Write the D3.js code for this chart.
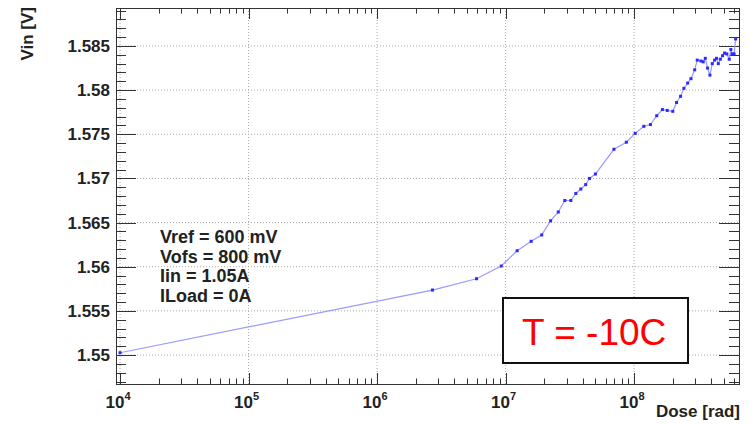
<!DOCTYPE html>
<html>
<head>
<meta charset="utf-8">
<script src="https://cdn.jsdelivr.net/npm/d3@7"></script>
<style>
  body { margin: 0; background: #fff; }
  svg { display: block; font-family: "Liberation Sans", Arial, Helvetica, sans-serif; }
  .tick-label { font-weight: bold; font-size: 17px; fill: #222; }
</style>
</head>
<body>
<svg id="chart" width="753" height="424"></svg>
<script>
// dose [rad]
var dose = [1e4, 2.7e6, 5.94e6, 9.25e6, 1.23e7, 1.58e7, 1.91e7, 2.24e7, 2.57e7, 2.89e7,
  3.22e7, 3.52e7, 3.85e7, 4.2e7, 4.5e7, 5.0e7, 6.97e7, 8.7e7, 1.02e8, 1.19e8,
  1.34e8, 1.5e8, 1.66e8, 1.81e8, 2.0e8, 2.14e8, 2.3e8, 2.44e8, 2.61e8, 2.77e8,
  2.96e8, 3.1e8, 3.31e8, 3.45e8, 3.58e8, 3.73e8, 3.89e8, 4.06e8, 4.23e8, 4.38e8,
  4.52e8, 4.69e8, 4.88e8, 5.06e8, 5.27e8, 5.5e8, 5.66e8, 5.8e8, 6.0e8, 6.17e8];
// Vin [V]
var vin = [1.55026, 1.55736, 1.55864, 1.56008, 1.56181, 1.56288, 1.5636, 1.5652, 1.5662, 1.5675,
  1.5675, 1.5683, 1.5688, 1.5693, 1.5700, 1.5705, 1.5733, 1.5741, 1.5751, 1.5759,
  1.5761, 1.5771, 1.5778, 1.5777, 1.5776, 1.5786, 1.5793, 1.5802, 1.5808, 1.5813,
  1.5823, 1.5834, 1.5833, 1.5832, 1.5836, 1.5825, 1.5817, 1.5830, 1.5834, 1.5836,
  1.5830, 1.5835, 1.5839, 1.5842, 1.5841, 1.5835, 1.5846, 1.5841, 1.5841, 1.5858];

var yTicks = [1.55, 1.555, 1.56, 1.565, 1.57, 1.575, 1.58, 1.585];
var xDecades = [4, 5, 6, 7, 8];
var notes = ["Vref = 600 mV", "Vofs = 800 mV", "Iin = 1.05A", "ILoad = 0A"];
var tempLabel = "T = -10C";

var svg = d3.select("#chart"),
  margin = {top: 8, right: 14, bottom: 40, left: 116},
  width = +svg.attr("width") - margin.left - margin.right,
  height = +svg.attr("height") - margin.top - margin.bottom,
  g = svg.append("g").attr("transform", "translate(" + margin.left + "," + margin.top + ")");

var x = d3.scaleLog().domain([9.3e3, 6.55e8]).range([0, width]);
var y = d3.scaleLinear().domain([1.54672, 1.5893]).range([height, 0]);

var data = dose.map(function(d, i) { return {dose: d, val: vin[i]}; });

// grid, dotted
var majorX = xDecades.map(function(e) { return Math.pow(10, e); });
g.selectAll("line.gx").data(majorX).enter().append("line")
  .attr("x1", function(d) { return x(d); }).attr("x2", function(d) { return x(d); })
  .attr("y1", 0).attr("y2", height)
  .attr("stroke", "#aaa").attr("stroke-dasharray", "1,2");
g.selectAll("line.gy").data(yTicks).enter().append("line")
  .attr("x1", 0).attr("x2", width)
  .attr("y1", function(d) { return y(d); }).attr("y2", function(d) { return y(d); })
  .attr("stroke", "#aaa").attr("stroke-dasharray", "1,2");

// ticks pointing inward on all four sides (ROOT style)
var minorX = x.ticks().filter(function(d) { return majorX.indexOf(d) < 0; });
var minorY = d3.range(1547, 1590).map(function(d) { return d / 1000; })
  .filter(function(d) { return d >= y.domain()[0] && d <= y.domain()[1]; });

var tk = g.append("g").attr("stroke", "#333").attr("stroke-width", 1);
function xt(vals, len) {
  vals.forEach(function(v) {
    var px = Math.round(x(v)) + 0.5;
    tk.append("line").attr("x1", px).attr("x2", px).attr("y1", height).attr("y2", height - len);
    tk.append("line").attr("x1", px).attr("x2", px).attr("y1", 0).attr("y2", len);
  });
}
function yt(vals, len) {
  vals.forEach(function(v) {
    var py = Math.round(y(v)) + 0.5;
    tk.append("line").attr("x1", 0).attr("x2", len).attr("y1", py).attr("y2", py);
    tk.append("line").attr("x1", width).attr("x2", width - len).attr("y1", py).attr("y2", py);
  });
}
xt(minorX, 5.5); xt(majorX, 11);
yt(minorY, 10); yt(yTicks, 20);

// frame
g.append("rect").attr("x", 0.5).attr("y", 0.5).attr("width", width).attr("height", height)
  .attr("fill", "none").attr("stroke", "#333").attr("stroke-width", 1);

// tick labels
g.selectAll("text.yl").data(yTicks).enter().append("text")
  .attr("class", "tick-label").attr("text-anchor", "end")
  .attr("x", -6).attr("y", function(d) { return y(d) + 6; })
  .text(function(d) { return d3.format("")(d); });

var xl = g.selectAll("text.xl").data(xDecades).enter().append("text")
  .attr("class", "tick-label").attr("text-anchor", "middle")
  .attr("x", function(d) { return x(Math.pow(10, d)) - 2; }).attr("y", height + 24);
xl.append("tspan").text("10");
xl.append("tspan").attr("dy", -8).style("font-size", "11px").text(function(d) { return d; });

// axis titles
svg.append("text").attr("class", "tick-label").attr("text-anchor", "end")
  .attr("x", margin.left + width + 1).attr("y", 417).text("Dose [rad]");
svg.append("text").attr("class", "tick-label").attr("text-anchor", "end")
  .attr("transform", "translate(33,7) rotate(-90)").text("Vin [V]");

// series
var line = d3.line()
  .x(function(d) { return x(d.dose); })
  .y(function(d) { return y(d.val); });
g.append("path").datum(data).attr("d", line)
  .attr("fill", "none").attr("stroke", "#9a9aff").attr("stroke-width", 1.2);
g.selectAll("rect.dot").data(data).enter().append("rect")
  .attr("x", function(d) { return x(d.dose) - 1.5; })
  .attr("y", function(d) { return y(d.val) - 1.5; })
  .attr("width", 3).attr("height", 3).attr("fill", "#2a2aff");

// annotation text
svg.append("g").selectAll("text").data(notes).enter().append("text")
  .attr("x", 160).attr("y", function(d, i) { return 243 + i * 19.5; })
  .style("font-weight", "bold").style("font-size", "18px").attr("fill", "#222")
  .text(function(d) { return d; });

// temperature box
svg.append("rect").attr("x", 503).attr("y", 298).attr("width", 185).attr("height", 65)
  .attr("fill", "#fff").attr("stroke", "#111").attr("stroke-width", 2);
svg.append("text").attr("x", 522).attr("y", 345)
  .style("font-size", "37px").attr("fill", "#ff0000").text(tempLabel);
</script>
</body>
</html>
